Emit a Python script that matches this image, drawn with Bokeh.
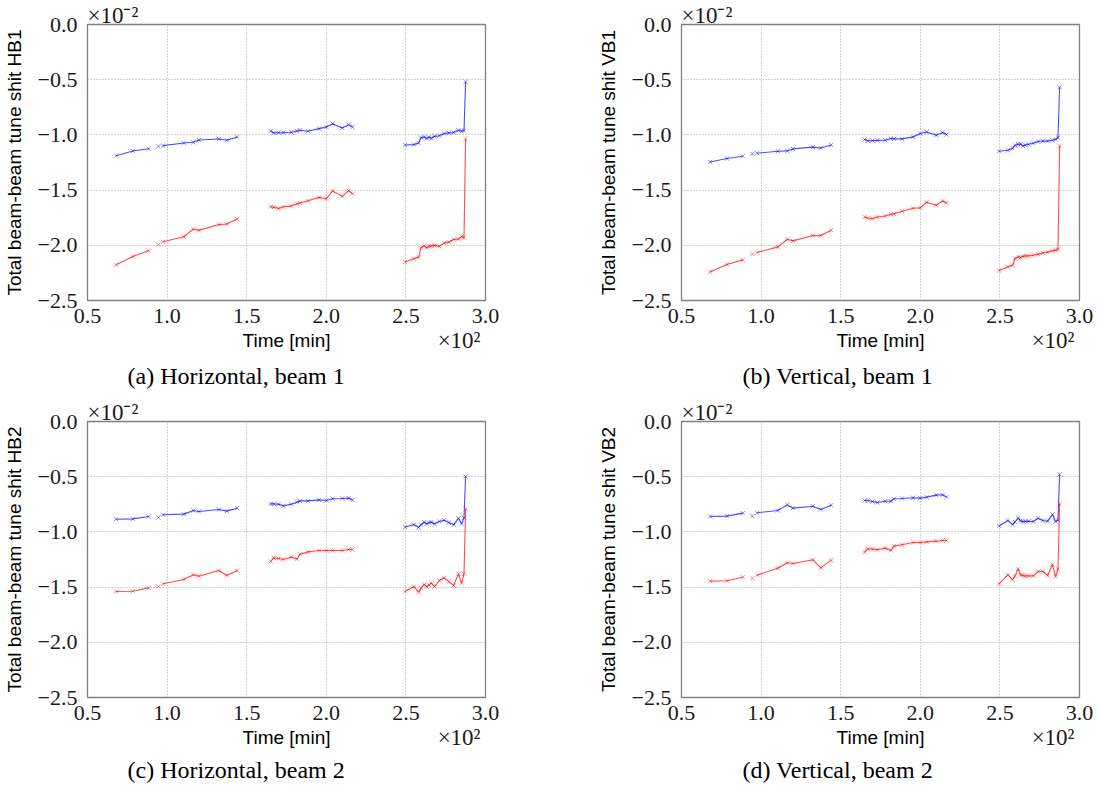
import math
from bokeh.plotting import figure
from bokeh.layouts import column, row
from bokeh.models import Range1d, FixedTicker, CustomJSTickFormatter, Title
from bokeh.embed import file_html
from bokeh.resources import INLINE

# ---- data -------------------------------------------------------------
TIME = [68, 78.5, 88.5, 94.5, 97.5, 110.5, 116.5, 120, 132.5, 137.5, 144,
        165, 167, 170, 173, 178, 181.5, 183.5, 188.5, 195.5, 200, 204, 210, 214, 216.5,
        249.5, 255, 258, 259.5, 261.5, 263, 264.5, 266, 268, 271, 274, 277, 280, 283, 285, 286.5, 287.5]
BREAK_AFTER = [88.5, 94.5, 144, 216.5]

HB1_BLUE = [-1.188, -1.146, -1.125, -1.103, -1.097, -1.073, -1.067, -1.046, -1.037, -1.049, -1.019,
            -0.964, -0.982, -0.980, -0.979, -0.976, -0.964, -0.958, -0.967, -0.943, -0.928, -0.898, -0.937, -0.907, -0.928,
            -1.091, -1.088, -1.073, -1.025, -1.019, -1.031, -1.022, -1.031, -1.013, -1.007, -0.988, -0.982, -0.979, -0.958, -0.967, -0.961, -0.520]
HB1_RED = [-2.177, -2.101, -2.047, -1.995, -1.968, -1.923, -1.853, -1.865, -1.811, -1.808, -1.762,
           -1.651, -1.654, -1.666, -1.651, -1.645, -1.623, -1.617, -1.596, -1.566, -1.578, -1.508, -1.557, -1.505, -1.533,
           -2.152, -2.122, -2.107, -2.022, -2.004, -2.022, -2.010, -2.005, -2.001, -2.010, -1.980, -1.971, -1.947, -1.944, -1.920, -1.932, -1.037]
VB1_BLUE = [-1.245, -1.214, -1.193, -1.172, -1.166, -1.148, -1.145, -1.127, -1.111, -1.118, -1.091,
            -1.042, -1.054, -1.051, -1.050, -1.048, -1.033, -1.036, -1.036, -1.018, -0.988, -0.973, -1.003, -0.979, -0.997,
            -1.148, -1.139, -1.121, -1.095, -1.085, -1.082, -1.100, -1.091, -1.085, -1.075, -1.060, -1.055, -1.056, -1.048, -1.040, -1.024, -0.568]
VB1_RED = [-2.241, -2.174, -2.132, -2.078, -2.066, -2.014, -1.945, -1.960, -1.912, -1.912, -1.863,
           -1.743, -1.752, -1.758, -1.743, -1.734, -1.718, -1.715, -1.691, -1.664, -1.661, -1.610, -1.637, -1.598, -1.616,
           -2.229, -2.195, -2.180, -2.120, -2.105, -2.110, -2.100, -2.096, -2.096, -2.090, -2.080, -2.070, -2.062, -2.050, -2.044, -2.038, -1.100]
HB2_BLUE = [-0.885, -0.882, -0.861, -0.870, -0.845, -0.839, -0.806, -0.815, -0.797, -0.812, -0.785,
            -0.746, -0.746, -0.749, -0.764, -0.749, -0.731, -0.719, -0.719, -0.710, -0.716, -0.700, -0.697, -0.694, -0.710,
            -0.957, -0.933, -0.960, -0.935, -0.912, -0.927, -0.915, -0.912, -0.927, -0.905, -0.894, -0.915, -0.936, -0.876, -0.927, -0.873, -0.498]
HB2_RED = [-1.540, -1.537, -1.507, -1.495, -1.470, -1.431, -1.389, -1.401, -1.350, -1.395, -1.350,
           -1.268, -1.235, -1.241, -1.250, -1.228, -1.245, -1.202, -1.181, -1.168, -1.168, -1.168, -1.168, -1.159, -1.159,
           -1.540, -1.495, -1.546, -1.510, -1.476, -1.495, -1.480, -1.464, -1.495, -1.440, -1.416, -1.450, -1.486, -1.380, -1.464, -1.380, -0.791]
VB2_BLUE = [-0.860, -0.857, -0.830, -0.857, -0.827, -0.806, -0.755, -0.785, -0.767, -0.797, -0.758,
            -0.716, -0.716, -0.725, -0.734, -0.722, -0.722, -0.700, -0.697, -0.691, -0.694, -0.685, -0.667, -0.664, -0.685,
            -0.947, -0.896, -0.933, -0.910, -0.873, -0.900, -0.906, -0.905, -0.903, -0.906, -0.876, -0.896, -0.903, -0.842, -0.906, -0.895, -0.480]
VB2_RED = [-1.446, -1.443, -1.410, -1.422, -1.392, -1.329, -1.280, -1.286, -1.253, -1.326, -1.256,
           -1.184, -1.153, -1.156, -1.162, -1.147, -1.168, -1.129, -1.117, -1.096, -1.096, -1.090, -1.084, -1.078, -1.078,
           -1.470, -1.389, -1.434, -1.400, -1.335, -1.390, -1.395, -1.398, -1.398, -1.398, -1.359, -1.359, -1.395, -1.296, -1.404, -1.338, -0.746]

X_TICKS = [50, 100, 150, 200, 250, 300]
Y_TICKS = [-2.5, -2.0, -1.5, -1.0, -0.5, 0.0]
X_LABEL = "Time [min]"
Y_LABELS = ["Total beam-beam tune shit HB1", "Total beam-beam tune shit VB1",
            "Total beam-beam tune shit HB2", "Total beam-beam tune shit VB2"]
CAPTIONS = ["(a) Horizontal, beam 1", "(b) Vertical, beam 1",
            "(c) Horizontal, beam 2", "(d) Vertical, beam 2"]
X_MULT = "\u00d710\u00b2"
Y_MULT = "\u00d710\u207b\u00b2"

SERIF = "Liberation Serif"
SANS = "Liberation Sans"


def with_breaks(ts, vs):
    xs, ys = [], []
    for t, v in zip(ts, vs):
        xs.append(t)
        ys.append(v)
        if t in BREAK_AFTER:
            xs.append(math.nan)
            ys.append(math.nan)
    return xs, ys


def make_panel(blue, red, ylabel, caption, w, h, rb, bb, cap_dx, cap_so, mult_so):
    p = figure(width=w, height=h, output_backend="svg", toolbar_location=None,
               x_range=Range1d(50, 300), y_range=Range1d(-2.5, 0),
               min_border_left=84, min_border_right=rb, min_border_top=24,
               min_border_bottom=bb, background_fill_color="white",
               border_fill_color="white")
    p.outline_line_color = "#808080"
    p.outline_line_width = 1.3

    p.xaxis.ticker = FixedTicker(ticks=X_TICKS)
    p.yaxis.ticker = FixedTicker(ticks=Y_TICKS)
    p.xaxis.formatter = CustomJSTickFormatter(code="return (tick/100).toFixed(1);")
    p.yaxis.formatter = CustomJSTickFormatter(
        code="return (tick < -1e-9 ? '\u2212' : '') + Math.abs(tick).toFixed(1);")
    for ax in (p.xaxis[0], p.yaxis[0]):
        ax.axis_line_color = None
        ax.major_tick_line_color = None
        ax.minor_tick_line_color = None
        ax.major_label_text_font = SERIF
        ax.major_label_text_font_size = "22px"
        ax.major_label_text_color = "#1a1a1a"
        ax.axis_label_text_font = SANS
        ax.axis_label_text_font_size = "19px"
        ax.axis_label_text_font_style = "normal"
        ax.axis_label_text_color = "black"
    p.xaxis.major_label_standoff = 2
    p.yaxis.major_label_standoff = 4
    p.xaxis.axis_label = X_LABEL
    p.yaxis.axis_label = ylabel
    p.xaxis.axis_label_standoff = 4
    p.yaxis.axis_label_standoff = 10

    p.grid.grid_line_color = "#a8a8a8"
    p.grid.grid_line_dash = "1 2"
    p.grid.grid_line_width = 1

    for vals, col in ((blue, "#0000ff"), (red, "#ff0000")):
        xs, ys = with_breaks(TIME, vals)
        p.line(xs, ys, line_color=col, line_width=1.1, line_alpha=0.7)
        p.scatter(TIME, vals, marker="x", size=6, line_color=col, line_width=1, line_alpha=0.45)

    p.add_layout(Title(text=Y_MULT, align="left", text_font=SERIF, text_font_size="23px",
                       text_font_style="normal", text_color="#1a1a1a", standoff=-6, offset=0), "above")
    p.add_layout(Title(text=caption, align="left", text_font=SERIF, text_font_size="24px",
                       text_font_style="normal", text_color="black", standoff=cap_so, offset=cap_dx), "below")
    p.add_layout(Title(text=X_MULT, align="right", vertical_align="top", text_font=SERIF,
                       text_font_size="23px", text_font_style="normal", text_color="#1a1a1a",
                       standoff=mult_so, offset=5), "below")
    return p


pa = make_panel(HB1_BLUE, HB1_RED, Y_LABELS[0], CAPTIONS[0], 594, 397, 109, 97, 40, 14, -136)
pb = make_panel(VB1_BLUE, VB1_RED, Y_LABELS[1], CAPTIONS[1], 505, 397, 20, 97, 61, 14, -136)
pc = make_panel(HB2_BLUE, HB2_RED, Y_LABELS[2], CAPTIONS[2], 594, 390, 109, 90, 40, 9, -126)
pd = make_panel(VB2_BLUE, VB2_RED, Y_LABELS[3], CAPTIONS[3], 505, 390, 20, 90, 61, 9, -126)

layout = column(row(pa, pb, spacing=0), row(pc, pd, spacing=0), spacing=0)

with open("out.html", "w") as f:
    f.write(file_html(layout, INLINE))
